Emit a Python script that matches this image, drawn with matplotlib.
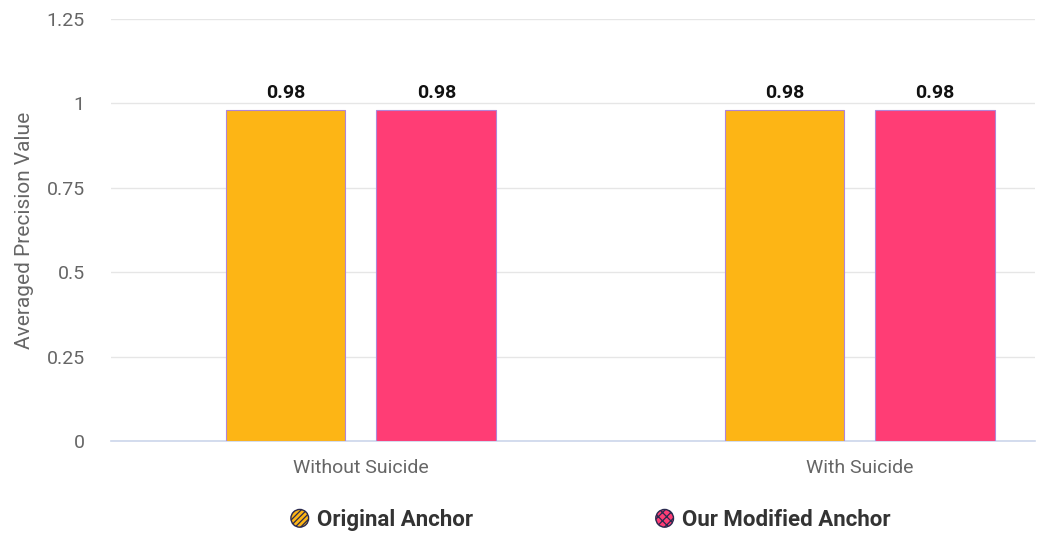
import matplotlib.pyplot as plt
import matplotlib.patches as mpatches
from matplotlib.legend_handler import HandlerPatch
import numpy as np

categories = ["Without Suicide", "With Suicide"]
series_names = ["Original Anchor", "Our Modified Anchor"]
original_anchor = [0.98, 0.98]
modified_anchor = [0.98, 0.98]
y_ticks = [0, 0.25, 0.5, 0.75, 1, 1.25]
y_tick_labels = ["0", "0.25", "0.5", "0.75", "1", "1.25"]

colors = ["#FDB515", "#FF3D75"]
hatches = ["//////", "xxxx"]

plt.rcParams['font.family'] = ['Roboto', 'DejaVu Sans']
plt.rcParams['hatch.linewidth'] = 0.9


class HandlerCircle(HandlerPatch):
    def create_artists(self, legend, orig_handle, xdescent, ydescent,
                       width, height, fontsize, trans):
        r = min(width, height) * 0.5
        c = mpatches.Circle((width / 2 - xdescent, height / 2 - ydescent), r,
                            facecolor=orig_handle.get_facecolor(),
                            hatch=orig_handle.get_hatch(), linewidth=0.5)
        self.update_prop(c, orig_handle, legend)
        c.set_edgecolor("#2A2A50")
        c.set_transform(trans)
        return [c]


fig = plt.figure(figsize=(10.43, 5.33), dpi=100)
ax = fig.add_axes([111 / 1043, 1 - 441 / 533, (1035 - 111) / 1043, (441 - 19) / 533])

x = np.arange(len(categories))
w = 0.24
off = 0.151
for vals, dx, col in zip([original_anchor, modified_anchor], [-off, off], colors):
    bars = ax.bar(x + dx, vals, w, color=col, edgecolor="#B085D6", linewidth=0.8, zorder=3)
    for b, v in zip(bars, vals):
        ax.text(b.get_x() + b.get_width() / 2, v + 0.025, f"{v:.2f}",
                ha="center", va="bottom", fontsize=14, fontweight="bold",
                color="#111111")

ax.set_xlim(-0.501, 1.351)
ax.set_ylim(0, 1.25)
ax.set_yticks(y_ticks)
ax.set_yticklabels(y_tick_labels)
ax.set_xticks(x)
ax.set_xticklabels(categories)
ax.tick_params(axis="both", length=0, labelsize=14, labelcolor="#666666")
ax.tick_params(axis="y", pad=19)
ax.tick_params(axis="x", pad=13)
ax.grid(axis="y", color="#E6E6E6", linewidth=1, zorder=0)
for s in ["top", "right", "left"]:
    ax.spines[s].set_visible(False)
ax.spines["bottom"].set_color("#CCD6EB")
ax.spines["bottom"].set_linewidth(1.2)
ax.set_ylabel("Averaged Precision Value", fontsize=15, color="#666666", labelpad=9)

handles = [mpatches.Patch(facecolor=c, hatch=h, label=n)
           for c, h, n in zip(colors, hatches, series_names)]
leg = fig.legend(handles=handles, loc="center", bbox_to_anchor=(0.566, 1 - 520 / 533),
                 ncol=2, frameon=False, handler_map={mpatches.Patch: HandlerCircle()},
                 prop={"weight": "bold", "size": 16}, handlelength=0.85, handleheight=0.85,
                 handletextpad=0.35, columnspacing=8.2)
for t in leg.get_texts():
    t.set_color("#333333")

fig.savefig("out.png", dpi=100)
